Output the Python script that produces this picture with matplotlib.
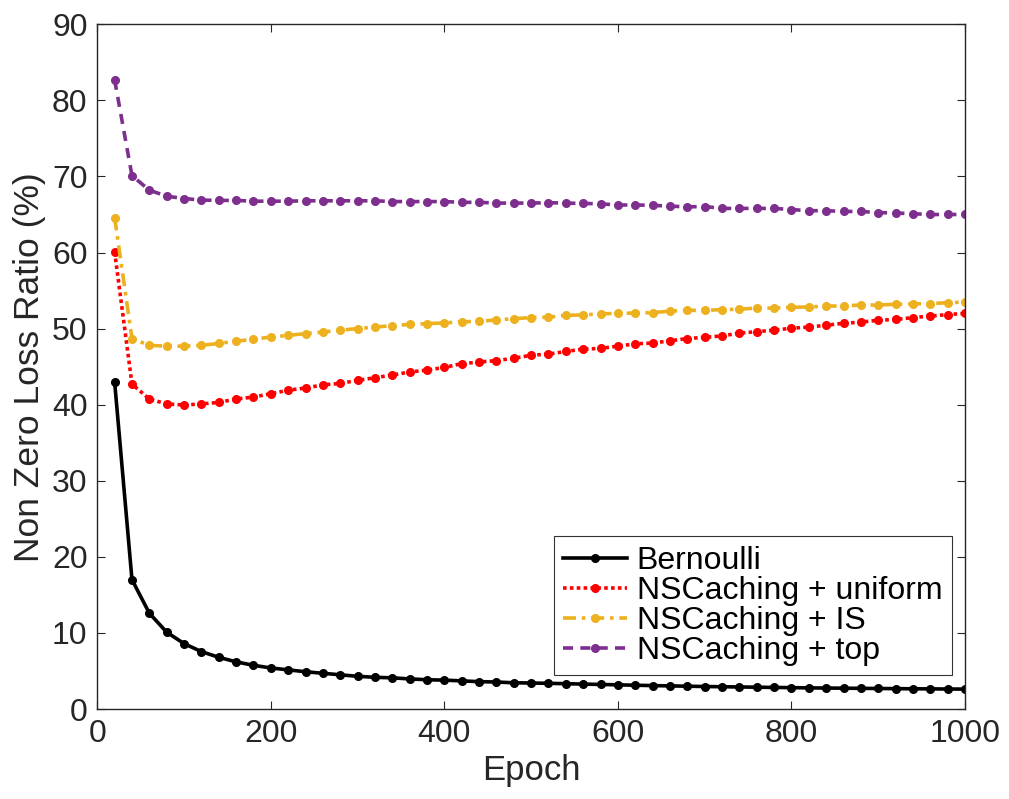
import matplotlib
matplotlib.use("Agg")
import matplotlib.pyplot as plt

# epochs sampled every 20
epochs = list(range(20, 1001, 20))

bernoulli = [43.0, 17.0, 12.6, 10.1, 8.6, 7.55, 6.8, 6.2, 5.75, 5.4,
             5.15, 4.9, 4.7, 4.5, 4.3, 4.17, 4.1, 3.96, 3.85, 3.8,
             3.7, 3.6, 3.55, 3.45, 3.42, 3.38, 3.33, 3.28, 3.23, 3.18,
             3.13, 3.08, 3.04, 3.0, 2.96, 2.93, 2.9, 2.87, 2.84, 2.81,
             2.78, 2.76, 2.74, 2.72, 2.7, 2.68, 2.66, 2.65, 2.63, 2.62]

ns_uniform = [60.1, 42.7, 40.75, 40.1, 39.96, 40.1, 40.3, 40.75, 41.0, 41.45,
              41.9, 42.2, 42.6, 42.8, 43.2, 43.55, 43.9, 44.3, 44.55, 44.9,
              45.4, 45.6, 45.8, 46.1, 46.5, 46.65, 47.0, 47.3, 47.4, 47.7,
              48.0, 48.1, 48.4, 48.7, 48.85, 49.05, 49.4, 49.6, 49.8, 50.05,
              50.2, 50.45, 50.7, 50.85, 51.1, 51.2, 51.45, 51.65, 51.85, 52.0]

ns_is = [64.6, 48.7, 47.8, 47.7, 47.7, 47.8, 48.05, 48.35, 48.6, 48.9,
         49.1, 49.35, 49.55, 49.8, 50.0, 50.2, 50.4, 50.55, 50.65, 50.75,
         50.9, 50.95, 51.15, 51.3, 51.45, 51.5, 51.75, 51.8, 51.95, 52.0,
         52.05, 52.1, 52.3, 52.4, 52.4, 52.5, 52.55, 52.7, 52.7, 52.8,
         52.85, 52.95, 53.0, 53.1, 53.1, 53.2, 53.25, 53.3, 53.4, 53.5]

ns_top = [82.7, 70.1, 68.2, 67.4, 67.1, 66.9, 66.85, 66.85, 66.75, 66.75,
          66.75, 66.8, 66.8, 66.8, 66.8, 66.8, 66.7, 66.7, 66.7, 66.7,
          66.6, 66.6, 66.5, 66.5, 66.5, 66.55, 66.5, 66.45, 66.4, 66.25,
          66.25, 66.2, 66.1, 66.0, 66.05, 65.8, 65.8, 65.8, 65.8, 65.65,
          65.5, 65.5, 65.4, 65.4, 65.25, 65.2, 65.1, 65.0, 65.0, 65.0]

labels = ["Bernoulli", "NSCaching + uniform", "NSCaching + IS", "NSCaching + top"]
colors = ["black", "#FF0000", "#EDB120", "#7E2F8E"]
dash_styles = ["-", (0, (1.0, 0.9)), (0, (3.6, 1.6, 1.0, 1.6)), (0, (2.8, 2.0))]

plt.rcParams["font.family"] = ["Liberation Sans", "DejaVu Sans"]

fig = plt.figure(figsize=(10.09, 7.99), dpi=100)
ax = fig.add_axes([0.0964, 0.1126, 0.8600, 0.8570])

for ys, lab, c, ls in zip([bernoulli, ns_uniform, ns_is, ns_top], labels, colors, dash_styles):
    ax.plot(epochs, ys, linestyle=ls, color=c, linewidth=2.6, marker="o",
            markersize=5.5, markerfacecolor=c, markeredgecolor=c, label=lab)

ax.set_xlim(0, 1000)
ax.set_ylim(0, 90)
ax.set_xticks(range(0, 1001, 200))
ax.set_yticks(range(0, 91, 10))

dark = "#262626"
for sp in ax.spines.values():
    sp.set_color(dark)
    sp.set_linewidth(1.0)
ax.tick_params(direction="in", length=6, width=0.8, colors=dark, labelsize=23,
               top=True, right=True, pad=7)

ax.set_xlabel("Epoch", fontsize=25, color=dark, labelpad=4)
ax.set_ylabel("Non Zero Loss Ratio (%)", fontsize=25.5, color=dark, labelpad=4)

leg = ax.legend(loc="lower right", bbox_to_anchor=(0.985, 0.049), borderaxespad=0,
                fontsize=23, frameon=True, fancybox=False, labelspacing=0.0,
                handlelength=2.0, handletextpad=0.3, borderpad=0.3)
leg.get_frame().set_edgecolor("black")
leg.get_frame().set_linewidth(0.8)

fig.savefig("out.png", dpi=100)
